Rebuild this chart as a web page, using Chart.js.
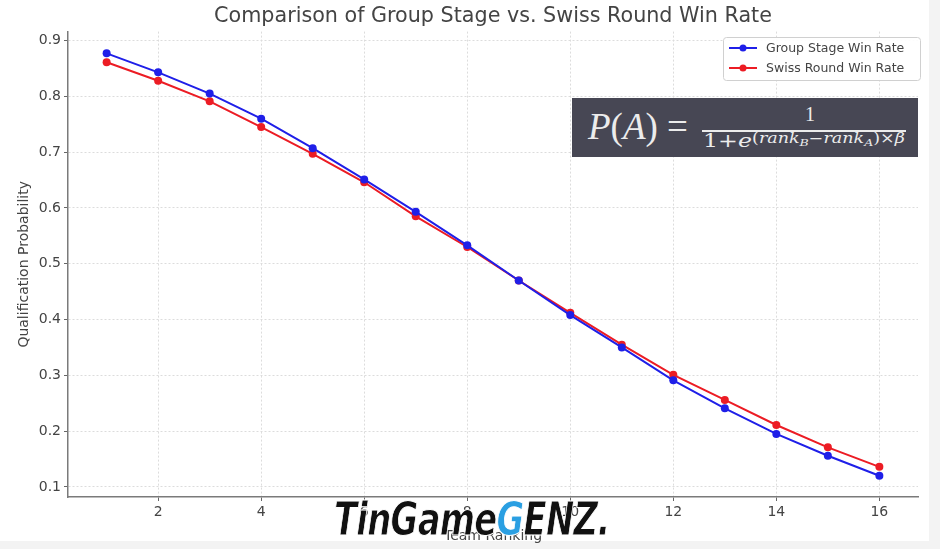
<!DOCTYPE html>
<html>
<head>
<meta charset="utf-8">
<script src="https://cdn.jsdelivr.net/npm/chart.js@4.4.1/dist/chart.umd.min.js"></script>
<style>
    html, body { margin: 0; padding: 0; background: #f3f3f3; }
    #wrap { position: relative; width: 940px; height: 549px; overflow: hidden; }
    #paper { position: absolute; left: 0; top: 0; width: 929px; height: 541px; background: #fff; }
    #chart { position: absolute; left: 0; top: 0; }
    #formula {
        position: absolute; left: 572px; top: 98px; width: 346px; height: 59px;
        background: #474754; color: #ececec; font-family: "Liberation Serif", "DejaVu Serif", serif;
    }
    #formula .lhs { position: absolute; left: 16px; top: 7px; font-size: 37px; white-space: nowrap; }
    #formula .num { position: absolute; left: 233px; top: 5px; font-size: 20px; }
    #formula .bar { position: absolute; left: 130px; top: 32px; width: 204px; height: 1.5px; background: #ececec; }
    #formula .den {
        position: absolute; left: 131px; top: 31px; font-size: 19px; white-space: nowrap;
        font-family: "DejaVu Serif", serif; transform: scaleX(1.25); transform-origin: left top;
    }
    #formula .den sup { font-size: 14px; position: relative; top: -4px; vertical-align: baseline; }
    #formula .den sub { font-size: 10px; vertical-align: baseline; position: relative; top: 3px; }
    #mark {
        position: absolute; left: 334px; top: 491px; font-family: "DejaVu Sans", sans-serif;
        font-weight: 900; font-style: italic; font-size: 47px; letter-spacing: -1px; color: #111;
        -webkit-text-stroke: 1px #fff; white-space: nowrap; transform: scaleX(0.72); transform-origin: left top;
    }
    #mark .g { color: #2a9fe2; }
</style>
</head>
<body>
<div id="wrap">
    <div id="paper"></div>
    <canvas id="chart" width="940" height="549"></canvas>
    <div id="formula">
        <div class="lhs"><i>P</i>(<i>A</i>) =</div>
        <div class="num">1</div>
        <div class="bar"></div>
        <div class="den">1+<i>e</i><sup>(<i>rank</i><sub><i>B</i></sub>−<i>rank</i><sub><i>A</i></sub>)×<i>β</i></sup></div>
    </div>
    <div id="mark">TinGame<span class="g">G</span>ENZ.</div>
</div>
<script>
var ranks = [1, 2, 3, 4, 5, 6, 7, 8, 9, 10, 11, 12, 13, 14, 15, 16];
var groupStage = [0.877, 0.843, 0.805, 0.760, 0.707, 0.651, 0.593, 0.533, 0.470, 0.408, 0.350, 0.291, 0.241, 0.195, 0.156, 0.120];
var swissRound = [0.861, 0.828, 0.791, 0.745, 0.697, 0.646, 0.585, 0.530, 0.470, 0.412, 0.355, 0.301, 0.256, 0.211, 0.171, 0.136];
var xTicks = [2, 4, 6, 8, 10, 12, 14, 16];
var yTicks = [0.1, 0.2, 0.3, 0.4, 0.5, 0.6, 0.7, 0.8, 0.9];
var chartTitle = "Comparison of Group Stage vs. Swiss Round Win Rate";

var textColor = "#444";
var font = "DejaVu Sans";

function points(vals) {
    return ranks.map(function (r, i) { return { x: r, y: vals[i] }; });
}

// title centred over the plot area (matplotlib style), plus legend box inside the plot
var decorations = {
    id: "decorations",
    afterDraw: function (chart) {
        var ctx = chart.ctx;
        var area = chart.chartArea;
        ctx.save();
        ctx.fillStyle = textColor;
        ctx.font = "20.7px " + font;
        ctx.textAlign = "center";
        ctx.textBaseline = "middle";
        ctx.fillText(chartTitle, (area.left + area.right) / 2, 17);

        var x = 723, y = 37, w = 197, h = 43;
        ctx.textAlign = "left";
        ctx.fillStyle = "rgba(255,255,255,0.9)";
        ctx.strokeStyle = "#d0d0d0";
        ctx.lineWidth = 1;
        ctx.beginPath();
        ctx.roundRect(x + 0.5, y + 0.5, w, h, 3);
        ctx.fill();
        ctx.stroke();
        chart.data.datasets.forEach(function (ds, i) {
            var ly = y + 11 + i * 20;
            ctx.strokeStyle = ds.borderColor;
            ctx.lineWidth = 2;
            ctx.beginPath();
            ctx.moveTo(x + 6, ly);
            ctx.lineTo(x + 34, ly);
            ctx.stroke();
            ctx.fillStyle = ds.backgroundColor;
            ctx.beginPath();
            ctx.arc(x + 20, ly, 3.5, 0, Math.PI * 2);
            ctx.fill();
            ctx.fillStyle = textColor;
            ctx.font = "12.5px " + font;
            ctx.fillText(ds.label, x + 43, ly + 1);
        });
        ctx.restore();
    }
};

var chart = new Chart(document.getElementById("chart"), {
    type: "line",
    data: {
        datasets: [
            {
                label: "Group Stage Win Rate",
                data: points(groupStage),
                borderColor: "#1f1fe8",
                backgroundColor: "#1f1fe8",
                borderWidth: 2,
                pointRadius: 4,
                pointBorderWidth: 0
            },
            {
                label: "Swiss Round Win Rate",
                data: points(swissRound),
                borderColor: "#ec1c24",
                backgroundColor: "#ec1c24",
                borderWidth: 2,
                pointRadius: 4,
                pointBorderWidth: 0
            }
        ]
    },
    options: {
        responsive: false,
        animation: false,
        layout: { padding: { left: 0, right: 22, top: 31.6, bottom: 0 } },
        plugins: {
            legend: { display: false },
            tooltip: { enabled: false },
            title: { display: false }
        },
        scales: {
            x: {
                type: "linear",
                min: 0.25,
                max: 16.75,
                afterBuildTicks: function (s) { s.ticks = xTicks.map(function (v) { return { value: v }; }); },
                afterFit: function (s) { s.height = 52; },
                ticks: { color: textColor, font: { family: font, size: 14 }, padding: 3, maxRotation: 0 },
                grid: { color: "#dcdcdc", tickColor: "#666", tickLength: 4, tickBorderDash: [] },
                border: { display: true, color: "#7a7a7a", width: 1.5, dash: [2, 2] },
                title: { display: true, text: "Team Ranking", color: textColor, font: { family: font, size: 14 }, padding: { top: 2 } }
            },
            y: {
                min: 0.082,
                max: 0.916,
                afterBuildTicks: function (s) { s.ticks = yTicks.map(function (v) { return { value: v }; }); },
                afterFit: function (s) { s.width = 68; },
                ticks: {
                    color: textColor,
                    font: { family: font, size: 14 },
                    padding: 3,
                    callback: function (v) { return v.toFixed(1); }
                },
                grid: { color: "#dcdcdc", tickColor: "#666", tickLength: 4, tickBorderDash: [] },
                border: { display: true, color: "#7a7a7a", width: 1.5, dash: [2, 2] },
                title: { display: true, text: "Qualification Probability", color: textColor, font: { family: font, size: 14 }, padding: { top: 16, bottom: 0 } }
            }
        }
    },
    plugins: [decorations]
});
</script>
</body>
</html>
